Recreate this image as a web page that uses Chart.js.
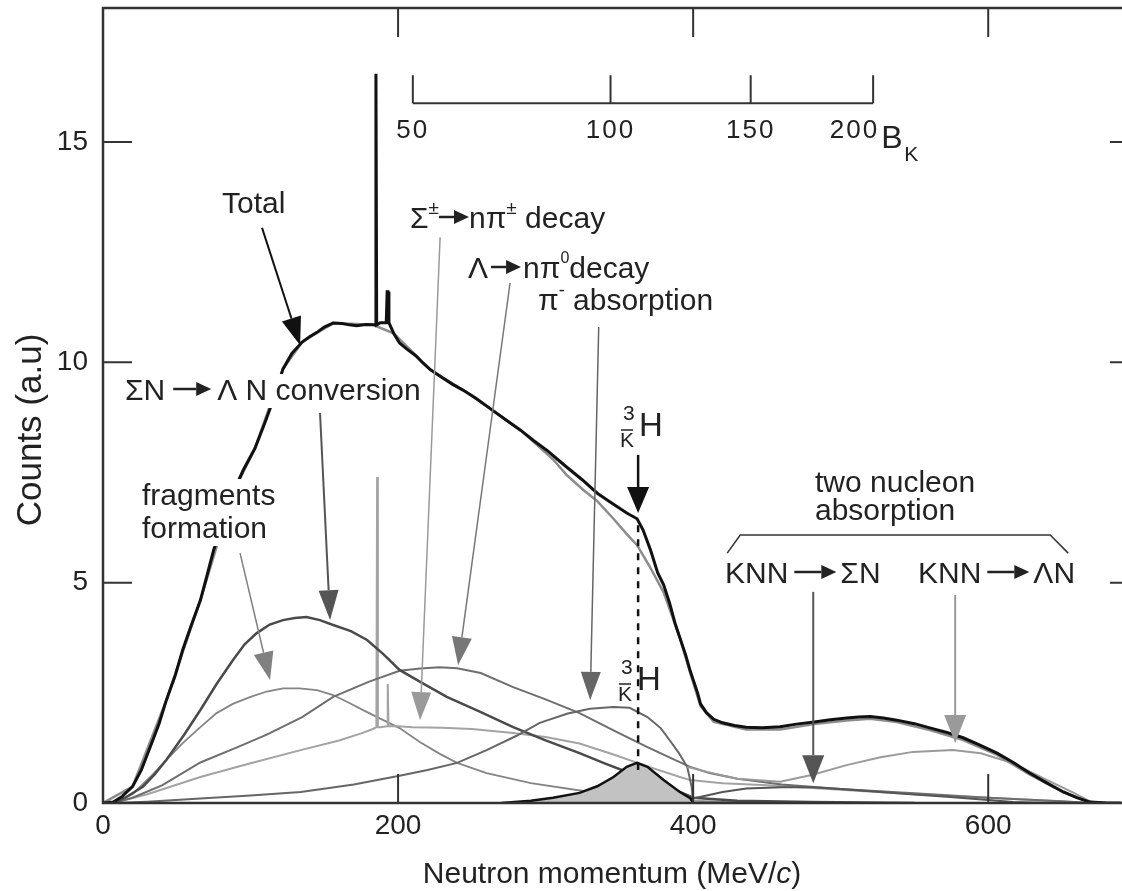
<!DOCTYPE html>
<html>
<head>
<meta charset="utf-8">
<script src="https://cdn.jsdelivr.net/npm/chart.js@4.4.0/dist/chart.umd.min.js"></script>
<style>
  html, body { margin: 0; padding: 0; background: #fff; }
  canvas { display: block; }
</style>
</head>
<body>
<canvas id="spectrum" width="1122" height="891"></canvas>
<script>
/* ---- data (x: neutron momentum MeV/c, y: counts a.u.) ---- */

const totalX = [0, 7, 13, 20, 26, 32, 38, 43, 49, 54, 60, 66, 70, 75, 82, 88, 95, 103, 110, 116, 122, 128, 135, 140, 145, 150, 156, 162, 167, 172, 178, 183, 184.5, 185, 185.5, 188, 192, 192.6, 193.2, 193.8, 197, 201, 206, 212, 217, 222, 230, 237, 244, 253, 262, 272, 283, 292, 301, 308, 314, 325, 335, 345, 355, 362, 366, 371, 376, 380, 384, 388, 391, 395, 398, 400, 403, 405, 409, 414, 420, 428, 436, 447, 459, 470, 482, 493, 504, 512, 520, 529, 538, 550, 561, 572, 583, 594, 606, 617, 628, 640, 651, 660, 669, 680, 690];
const totalY = [0, 0.02, 0.15, 0.37, 0.75, 1.27, 1.8, 2.34, 2.9, 3.47, 4.05, 4.6, 5.1, 5.74, 6.4, 7.03, 7.55, 8.05, 8.65, 9.2, 9.85, 10.2, 10.46, 10.58, 10.68, 10.8, 10.89, 10.88, 10.85, 10.83, 10.86, 10.85, 10.85, 16.55, 10.85, 10.9, 10.9, 11.6, 11.6, 10.9, 10.66, 10.44, 10.3, 10.15, 9.98, 9.83, 9.65, 9.5, 9.37, 9.18, 8.96, 8.72, 8.46, 8.22, 8.0, 7.8, 7.63, 7.33, 7.03, 6.8, 6.58, 6.45, 6.2, 5.75, 5.22, 4.95, 4.54, 4.05, 3.75, 3.35, 3.0, 2.8, 2.5, 2.25, 2.05, 1.9, 1.82, 1.76, 1.72, 1.71, 1.73, 1.79, 1.84, 1.89, 1.93, 1.95, 1.96, 1.93, 1.88, 1.8, 1.7, 1.6, 1.48, 1.32, 1.13, 0.92, 0.68, 0.45, 0.25, 0.12, 0.02, 0, 0];

const sumX = [0, 20, 43, 66, 88, 103, 122, 135, 156, 183, 197, 222, 244, 262, 283, 295, 305, 314, 325, 335, 346, 355, 362, 370, 380, 391, 398, 405, 414, 436, 459, 482, 504, 520, 538, 561, 583, 606, 628, 651, 669, 680];
const sumY = [0, 0.37, 2.34, 4.6, 7.03, 8.05, 9.85, 10.46, 10.89, 10.85, 10.66, 9.83, 9.37, 8.96, 8.46, 8.1, 7.8, 7.45, 7.12, 6.85, 6.45, 6.1, 5.85, 5.4, 4.78, 3.75, 2.95, 2.2, 1.84, 1.67, 1.67, 1.79, 1.87, 1.91, 1.84, 1.65, 1.43, 1.09, 0.65, 0.24, 0.02, 0];

const convX = [0, 7, 15, 27, 35, 43, 55, 66, 77, 88, 96, 104, 113, 122, 130, 138, 147, 156, 168, 179, 190, 201, 215, 233, 255, 278, 300, 323, 340, 357, 375, 391, 400, 430, 480, 550];
const convY = [0, 0, 0.12, 0.37, 0.65, 0.98, 1.55, 2.11, 2.7, 3.24, 3.6, 3.85, 4.05, 4.15, 4.2, 4.22, 4.15, 4.04, 3.9, 3.7, 3.38, 3.02, 2.75, 2.41, 2.08, 1.72, 1.42, 1.13, 0.9, 0.68, 0.45, 0.25, 0.12, 0.05, 0.02, 0];

const fragX = [0, 7, 20, 32, 43, 54, 66, 77, 88, 100, 111, 122, 133, 145, 156, 167, 178, 190, 201, 215, 228, 240, 260, 290, 330, 360, 400, 450];
const fragY = [0, 0, 0.2, 0.59, 0.98, 1.36, 1.72, 2.04, 2.25, 2.41, 2.53, 2.6, 2.6, 2.56, 2.45, 2.27, 2.08, 1.88, 1.7, 1.38, 1.12, 0.91, 0.68, 0.45, 0.25, 0.15, 0.05, 0];

const sigmaX = [0, 7, 30, 66, 100, 134, 160, 175, 183, 185.3, 185.8, 186.3, 188, 192.5, 193, 193.5, 200, 210, 230, 250, 278, 300, 323, 346, 370, 390, 398, 420, 450, 500, 550, 600, 640, 670];
const sigmaY = [0, 0, 0.2, 0.59, 0.9, 1.2, 1.42, 1.58, 1.68, 1.72, 7.4, 1.72, 1.72, 1.74, 2.7, 1.74, 1.74, 1.72, 1.71, 1.68, 1.59, 1.5, 1.35, 1.1, 0.82, 0.6, 0.52, 0.45, 0.4, 0.3, 0.2, 0.12, 0.05, 0];

const lambdaX = [0, 7, 20, 40, 66, 90, 111, 135, 156, 180, 201, 215, 228, 240, 256, 278, 300, 323, 346, 369, 385, 398, 411, 430, 460, 500, 550, 600, 650, 670];
const lambdaY = [0, 0, 0.12, 0.4, 0.92, 1.25, 1.55, 1.95, 2.41, 2.75, 3.0, 3.05, 3.08, 3.06, 2.95, 2.63, 2.35, 2.04, 1.65, 1.27, 1.02, 0.82, 0.68, 0.55, 0.42, 0.32, 0.22, 0.12, 0.04, 0];

const piX = [0, 7, 30, 66, 100, 134, 170, 201, 220, 240, 260, 280, 296, 315, 330, 346, 357, 369, 378, 384, 390, 396, 399, 400];
const piY = [0, 0, 0.03, 0.1, 0.17, 0.25, 0.42, 0.62, 0.75, 0.91, 1.2, 1.52, 1.82, 2.03, 2.14, 2.18, 2.16, 1.95, 1.7, 1.43, 1.15, 0.82, 0.36, 0];

const hypX = [270, 290, 305, 323, 335, 346, 355, 362, 369, 380, 391, 398, 400];
const hypY = [0, 0.05, 0.12, 0.23, 0.38, 0.59, 0.82, 0.91, 0.82, 0.52, 0.25, 0.11, 0];

const knnSigmaX = [390, 400, 420, 436, 460, 481, 500, 527, 550, 572, 600, 617, 640];
const knnSigmaY = [0, 0.1, 0.25, 0.33, 0.36, 0.36, 0.32, 0.25, 0.19, 0.14, 0.07, 0.02, 0];

const knnLambdaX = [396, 410, 430, 459, 481, 504, 527, 549, 576, 595, 617, 640, 658, 671];
const knnLambdaY = [0.82, 0.7, 0.55, 0.48, 0.64, 0.86, 1.04, 1.16, 1.2, 1.13, 0.9, 0.52, 0.23, 0];

// secondary scale: kaon binding energy B_K against neutron momentum
const bkLabels = ['50', '100', '150', '200'];
const bkMomentum = [210, 344, 439, 522];

const xTickStep = 40;
const yTickStep = 1;

/* ---- styling ---- */
const FONT = '"Liberation Sans", Arial, Helvetica, sans-serif';
const INK = '#222';

function series(label, xs, ys, color, width, extra) {
  return Object.assign({
    label,
    data: xs.map((x, i) => ({ x, y: ys[i] })),
    showLine: true,
    borderColor: color,
    borderWidth: width,
    pointRadius: 0,
    fill: false,
    tension: 0,
  }, extra || {});
}

/* ---- annotation helpers ---- */
function arrow(ctx, x1, y1, x2, y2, color, w, hl, hw) {
  const a = Math.atan2(y2 - y1, x2 - x1);
  const bx = x2 - hl * Math.cos(a), by = y2 - hl * Math.sin(a);
  ctx.strokeStyle = color; ctx.lineWidth = w;
  ctx.beginPath(); ctx.moveTo(x1, y1); ctx.lineTo(bx, by); ctx.stroke();
  ctx.fillStyle = color;
  ctx.beginPath();
  ctx.moveTo(x2, y2);
  ctx.lineTo(bx + hw * Math.sin(a), by - hw * Math.cos(a));
  ctx.lineTo(bx - hw * Math.sin(a), by + hw * Math.cos(a));
  ctx.closePath(); ctx.fill();
}

// text made of pieces: {t, size, dy, italic} or {arrow: len} or {gap: px}
function rich(ctx, x, y, parts, bg) {
  let w = 0;
  const fontOf = p => `${p.italic ? 'italic ' : ''}${p.size || 30}px ${FONT}`;
  const items = parts.map(p => {
    const it = Object.assign({ x: w }, p);
    if (p.arrow) w += p.arrow;
    else if (p.gap) w += p.gap;
    else {
      ctx.font = fontOf(p);
      w += ctx.measureText(p.t).width;
    }
    return it;
  });
  if (bg) {
    ctx.fillStyle = '#fff';
    ctx.fillRect(x - 3, y - 26, w + 6, 34);
  }
  ctx.textAlign = 'left'; ctx.textBaseline = 'alphabetic';
  items.forEach(it => {
    if (it.arrow) {
      const ay = y - 11;
      arrow(ctx, x + it.x, ay, x + it.x + it.arrow, ay, INK, 2.5, 15, 7);
    } else if (it.t) {
      ctx.fillStyle = INK;
      ctx.font = fontOf(it);
      ctx.fillText(it.t, x + it.x, y + (it.dy || 0));
    }
  });
  return w;
}

function hypLabel(ctx, x, y) {
  // ^3_K̄ H  (x = left of the K, y = baseline of the H)
  ctx.fillStyle = INK; ctx.textAlign = 'left'; ctx.textBaseline = 'alphabetic';
  ctx.font = `21px ${FONT}`;
  ctx.fillText('3', x + 3, y - 16);
  ctx.fillText('K', x, y + 11);
  ctx.strokeStyle = INK; ctx.lineWidth = 1.5;
  ctx.beginPath(); ctx.moveTo(x + 1, y - 6); ctx.lineTo(x + 13, y - 6); ctx.stroke();
  ctx.font = `33px ${FONT}`;
  ctx.fillText('H', x + 19, y);
}

/* ---- plugin: frame, inward ticks, axis titles, B_K scale, annotations ---- */
const decorations = {
  id: 'decorations',
  afterDatasetsDraw(chart) {
    const { ctx, scales: { x, y } } = chart;
    const X = v => x.getPixelForValue(v), Y = v => y.getPixelForValue(v);
    ctx.save();

    // dashed marker under the hypernucleus arrow
    ctx.strokeStyle = '#111'; ctx.lineWidth = 2.5; ctx.setLineDash([7, 7]);
    ctx.beginPath(); ctx.moveTo(X(362.7), Y(6.3)); ctx.lineTo(X(362.7), Y(0.75)); ctx.stroke();
    ctx.setLineDash([]);

    // labels (white boxes hide the curves beneath, as in the print)
    rich(ctx, 222, 213, [{ t: 'Total' }], true);
    rich(ctx, 410, 228, [{ t: 'Σ' }, { t: '±', size: 19, dy: -14 }, { arrow: 30 }, { t: 'nπ' }, { t: '±', size: 19, dy: -14 }, { t: ' decay' }], true);
    rich(ctx, 468, 278, [{ t: 'Λ' }, { gap: 3 }, { arrow: 30 }, { gap: 2 }, { t: 'nπ' }, { t: '0', size: 16, dy: -15 }, { t: 'decay' }], true);
    rich(ctx, 538, 310, [{ t: 'π' }, { t: '-', size: 18, dy: -14 }, { t: ' absorption' }], true);
    rich(ctx, 125, 400, [{ t: 'ΣN' }, { gap: 8 }, { arrow: 38 }, { gap: 6 }, { t: 'Λ N conversion' }], true);
    rich(ctx, 142, 505, [{ t: 'fragments' }], true);
    rich(ctx, 142, 538, [{ t: 'formation' }], true);
    rich(ctx, 815, 492, [{ t: 'two nucleon' }], true);
    rich(ctx, 815, 520, [{ t: 'absorption' }], false);
    rich(ctx, 725, 583, [{ t: 'KNN' }, { gap: 6 }, { arrow: 42 }, { gap: 4 }, { t: 'ΣN' }], true);
    rich(ctx, 918, 583, [{ t: 'KNN' }, { gap: 6 }, { arrow: 42 }, { gap: 4 }, { t: 'ΛN' }], true);
    hypLabel(ctx, 620, 436);
    hypLabel(ctx, 618, 690);

    // bracket over the two-nucleon labels
    ctx.strokeStyle = '#333'; ctx.lineWidth = 1.5;
    ctx.beginPath();
    ctx.moveTo(X(423.1), Y(5.67)); ctx.lineTo(X(431.9), Y(6.08));
    ctx.lineTo(X(642.0), Y(6.08)); ctx.lineTo(X(654.2), Y(5.67));
    ctx.stroke();

    // arrows pointing at the components
    arrow(ctx, X(107.8), Y(13.05), X(133.6), Y(10.39), '#111', 2, 28, 10);
    arrow(ctx, X(147.1), Y(8.85), X(153.9), Y(4.15), '#555', 2, 30, 10);
    arrow(ctx, X(92.9), Y(5.67), X(113.2), Y(2.79), '#808080', 1.5, 28, 10);
    arrow(ctx, X(228.5), Y(12.84), X(214.9), Y(1.88), '#9a9a9a', 1.5, 28, 10);
    arrow(ctx, X(275.9), Y(11.8), X(240.7), Y(3.13), '#777', 1.5, 28, 10);
    arrow(ctx, X(336), Y(10.8), X(330.2), Y(2.34), '#666', 1.5, 28, 10);
    arrow(ctx, X(362.7), Y(7.9), X(362.7), Y(6.58), '#111', 2.5, 26, 11);
    arrow(ctx, X(481.4), Y(4.79), X(481.4), Y(0.45), '#555', 2, 28, 11);
    arrow(ctx, X(577.6), Y(4.72), X(577.6), Y(1.36), '#9a9a9a', 2, 28, 11);

    // B_K scale, placed through the momentum axis
    const bkY = Y(15.88);
    ctx.strokeStyle = '#333'; ctx.lineWidth = 2;
    ctx.beginPath();
    ctx.moveTo(X(bkMomentum[0]), bkY); ctx.lineTo(X(bkMomentum[bkMomentum.length - 1]), bkY);
    bkMomentum.forEach(m => { ctx.moveTo(X(m), bkY); ctx.lineTo(X(m), bkY - 28); });
    ctx.stroke();
    ctx.fillStyle = INK; ctx.font = `26px ${FONT}`;
    ctx.letterSpacing = '2px';
    bkLabels.forEach((l, i) => {
      const last = i === bkLabels.length - 1;
      ctx.textAlign = last ? 'right' : 'center';
      ctx.fillText(l, X(bkMomentum[i]) + (last ? 6 : 0), bkY + 35);
    });
    ctx.letterSpacing = '0px';
    ctx.textAlign = 'left';
    ctx.font = `32px ${FONT}`;
    ctx.fillText('B', X(bkMomentum[3]) + 8, bkY + 45);
    ctx.font = `21px ${FONT}`;
    ctx.fillText('K', X(bkMomentum[3]) + 31, bkY + 58);

    ctx.restore();
  },
  afterDraw(chart) {
    const { ctx, chartArea: a, scales: { x, y } } = chart;
    const W = chart.width;
    ctx.save();
    ctx.strokeStyle = '#333'; ctx.lineWidth = 2.5;
    ctx.beginPath();
    ctx.moveTo(W, a.top); ctx.lineTo(a.left, a.top); ctx.lineTo(a.left, a.bottom); ctx.lineTo(W, a.bottom);
    ctx.stroke();
    ctx.lineWidth = 2;
    ctx.beginPath();
    x.ticks.forEach(t => {
      if (t.value === 0) return;
      const px = x.getPixelForValue(t.value);
      const len = t.value % 200 === 0 ? 29 : 11;
      ctx.moveTo(px, a.bottom); ctx.lineTo(px, a.bottom - len);
      ctx.moveTo(px, a.top); ctx.lineTo(px, a.top + len);
    });
    y.ticks.forEach(t => {
      if (t.value === 0) return;
      const py = y.getPixelForValue(t.value);
      const major = t.value % 5 === 0;
      ctx.moveTo(a.left, py); ctx.lineTo(a.left + (major ? 29 : 12), py);
      if (major) { ctx.moveTo(W, py); ctx.lineTo(W - 12, py); }
    });
    ctx.stroke();

    // axis titles (x title carries an italic c)
    ctx.font = `30px ${FONT}`;
    const head = 'Neutron momentum (MeV/';
    const wHead = ctx.measureText(head).width;
    ctx.font = `italic 30px ${FONT}`;
    const wC = ctx.measureText('c').width;
    ctx.font = `30px ${FONT}`;
    const wTail = ctx.measureText(')').width;
    const cx = (a.left + a.right) / 2;
    rich(ctx, cx - (wHead + wC + wTail) / 2, 883, [{ t: head }, { t: 'c', italic: true }, { t: ')' }], false);

    ctx.translate(31, 430);
    ctx.rotate(-Math.PI / 2);
    ctx.fillStyle = INK; ctx.font = `35px ${FONT}`;
    ctx.textAlign = 'center'; ctx.textBaseline = 'middle';
    ctx.fillText('Counts (a.u)', 0, 0);
    ctx.restore();
  }
};

/* ---- chart ---- */
const tickFont = { family: FONT, size: 28 };

new Chart(document.getElementById('spectrum'), {
  type: 'scatter',
  data: {
    datasets: [
      series('Total', totalX, totalY, '#111', 3),
      series('³K̄H', hypX, hypY, '#111', 2.5, { fill: 'origin', backgroundColor: '#c2c2c2' }),
      series('Sum', sumX, sumY, '#8c8c8c', 2.5),
      series('KNN → ΛN', knnLambdaX, knnLambdaY, '#9a9a9a', 2),
      series('KNN → ΣN', knnSigmaX, knnSigmaY, '#555', 2),
      series('π⁻ absorption', piX, piY, '#666', 2),
      series('ΣN → ΛN conversion', convX, convY, '#4a4a4a', 2.5),
      series('Λ → nπ⁰ decay', lambdaX, lambdaY, '#6e6e6e', 2),
      series('Σ± → nπ± decay', sigmaX, sigmaY, '#a3a3a3', 2),
      series('fragments formation', fragX, fragY, '#858585', 1.8),
    ],
  },
  options: {
    responsive: false,
    animation: false,
    events: [],
    layout: { padding: { left: 0, right: 1, top: 8, bottom: 0 } },
    plugins: { legend: { display: false }, tooltip: { enabled: false } },
    scales: {
      x: {
        type: 'linear', min: 0, max: 690,
        afterFit: s => { s.height = 88; s.paddingLeft = 0; s.paddingRight = 0; },
        grid: { display: false, drawTicks: false },
        border: { display: false },
        ticks: {
          stepSize: xTickStep, includeBounds: false, autoSkip: false, maxRotation: 0,
          padding: 6, color: INK, font: tickFont,
          callback: v => (v % 200 === 0 ? String(v) : null),
        },
      },
      y: {
        type: 'linear', min: 0, max: 18.04,
        afterFit: s => { s.width = 103; s.paddingTop = 0; s.paddingBottom = 0; },
        grid: { display: false, drawTicks: false },
        border: { display: false },
        ticks: {
          stepSize: yTickStep, includeBounds: false, autoSkip: false,
          padding: 15, color: INK, font: tickFont,
          callback: v => (v % 5 === 0 ? String(v) : null),
        },
      },
    },
  },
  plugins: [decorations],
});
</script>
</body>
</html>
